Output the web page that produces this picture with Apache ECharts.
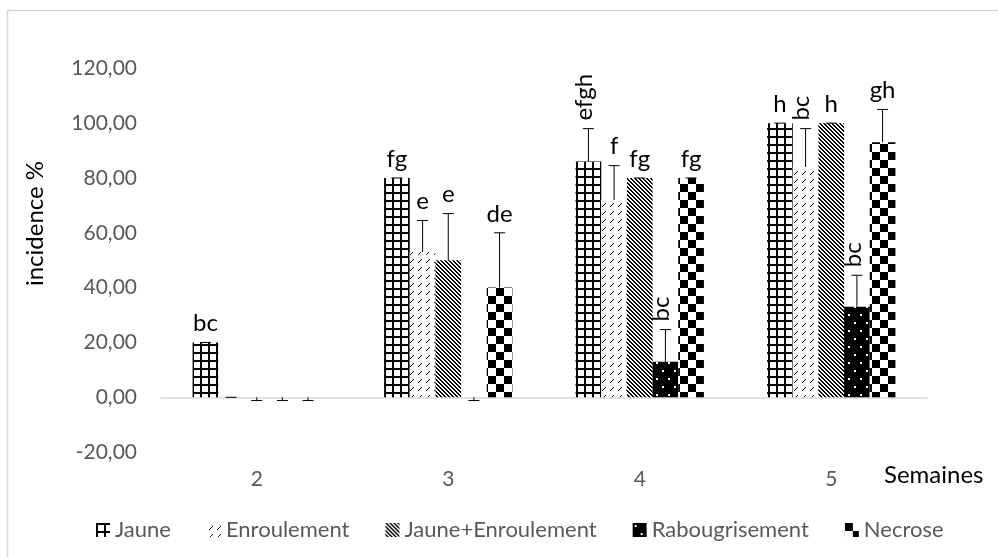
<!DOCTYPE html>
<html><head><meta charset="utf-8">
<script src="https://cdn.jsdelivr.net/npm/echarts@6/dist/echarts.min.js"></script>
<style>html,body{margin:0;padding:0;background:#fff}#c{width:998px;height:557px}</style>
</head><body><div id="c"></div>
<script>
const categories = ['2', '3', '4', '5'];
const yMin = -20, yMax = 120, yStep = 20;
const jaune = [20, 80, 86, 100];
const enroulement = [0, 53, 72, 84];
const jauneEnroulement = [0, 50, 80, 100];
const rabougrisement = [0, 0, 13, 33];
const necrose = [0, 40, 80, 93];
const errJaune = [0, 0, 12, 0];
const errEnroulement = [0, 11.5, 12.5, 14];
const errJauneEnroulement = [-1.2, 17, 0, 0];
const errRabougrisement = [-1.2, -1.2, 11.7, 11.5];
const errNecrose = [-1.2, 20, 0, 12];
const lblJaune = ['bc', 'fg', 'efgh', 'h'];
const lblEnroulement = ['', 'e', 'f', 'bc'];
const lblJauneEnroulement = ['', 'e', 'fg', 'h'];
const lblRabougrisement = ['', '', 'bc', 'bc'];
const lblNecrose = ['', 'de', 'fg', 'gh'];
const rotJaune = [0, 0, 1, 0];
const rotEnroulement = [0, 0, 0, 1];
const rotJauneEnroulement = [0, 0, 0, 0];
const rotRabougrisement = [0, 0, 1, 1];
const rotNecrose = [0, 0, 0, 0];

function tile(w, h, bg, fg, draw) {
  const c = document.createElement('canvas');
  c.width = w; c.height = h;
  const g = c.getContext('2d');
  g.fillStyle = bg; g.fillRect(0, 0, w, h);
  g.fillStyle = fg; draw(g, w, h);
  return { image: c, repeat: 'repeat' };
}
const patGrid = tile(8, 8, '#fff', '#000', g => { g.fillRect(0, 0, 8, 2); g.fillRect(0, 0, 2, 8); });
const patDash = tile(8, 8, '#fff', '#111', g => { for (let k = 0; k < 4; k++) g.fillRect(2 + k, 6 - k, 1, 1); });
const patDiag = tile(4, 4, '#fff', '#000', g => {
  for (let y = 0; y < 4; y++) for (let x = 0; x < 4; x++) if ((((x - y) % 4) + 4) % 4 < 2) g.fillRect(x, y, 1, 1);
});
const patDots = tile(12, 16, '#000', '#fff', g => { g.fillRect(2, 2, 2, 2); g.fillRect(8, 10, 2, 2); });
const patCheck = tile(16, 16, '#fff', '#000', g => { g.fillRect(0, 0, 8, 8); g.fillRect(8, 8, 8, 8); });

const defs = [
  { name: 'Jaune', values: jaune, err: errJaune, lbl: lblJaune, rot: rotJaune, color: patGrid },
  { name: 'Enroulement', values: enroulement, err: errEnroulement, lbl: lblEnroulement, rot: rotEnroulement, color: patDash },
  { name: 'Jaune+Enroulement', values: jauneEnroulement, err: errJauneEnroulement, lbl: lblJauneEnroulement, rot: rotJauneEnroulement, color: patDiag },
  { name: 'Rabougrisement', values: rabougrisement, err: errRabougrisement, lbl: lblRabougrisement, rot: rotRabougrisement, color: patDots },
  { name: 'Necrose', values: necrose, err: errNecrose, lbl: lblNecrose, rot: rotNecrose, color: patCheck }
];
const GAP = 0.33;
const FONT = 'Lato, "Open Sans", sans-serif';

const barSeries = defs.map(d => ({
  type: 'bar', name: d.name, data: d.values, barGap: '0%', barCategoryGap: (GAP * 100) + '%',
  itemStyle: { color: d.color }, z: 2
}));
const errSeries = defs.map((d, i) => ({
  type: 'custom', name: d.name + ' err', silent: true, z: 5,
  data: categories.map((c, k) => [k, d.values[k], d.err[k]]),
  encode: { x: 0, y: 1 },
  renderItem(params, api) {
    const k = api.value(0), v = api.value(1), e = api.value(2);
    const catW = api.size([1, 0])[0];
    const bw = catW * (1 - GAP) / defs.length;
    const cx = api.coord([k, 0])[0] - catW * (1 - GAP) / 2 + bw * (i + 0.5);
    const yB = api.coord([k, v])[1], yE = api.coord([k, v + e])[1];
    const ls = { stroke: '#000', lineWidth: 1 };
    const children = [
      { type: 'line', shape: { x1: cx, y1: yB, x2: cx, y2: yE }, style: ls },
      { type: 'line', shape: { x1: cx - 5.5, y1: yE, x2: cx + 5.5, y2: yE }, style: ls }
    ];
    const txt = d.lbl[params.dataIndex];
    if (txt) {
      const top = Math.min(yB, yE);
      if (d.rot[params.dataIndex]) {
        children.push({ type: 'text', x: cx - 4, y: top - 8, rotation: Math.PI / 2,
          style: { text: txt, font: '24px ' + FONT, fill: '#000', align: 'left', verticalAlign: 'middle' } });
      } else {
        children.push({ type: 'text', x: cx, y: top - 19,
          style: { text: txt, font: '24px ' + FONT, fill: '#000', align: 'center', verticalAlign: 'middle' } });
      }
    }
    return { type: 'group', children };
  }
}));

const chart = echarts.init(document.getElementById('c'), null, { renderer: 'canvas' });
chart.setOption({
  animation: false,
  backgroundColor: '#fff',
  textStyle: { fontFamily: FONT },
  grid: { left: 161, right: 71, top: 68.3, bottom: 104.9 },
  legend: {
    data: defs.map(d => d.name), icon: 'rect', itemWidth: 14, itemHeight: 14, itemGap: 36,
    left: 91, top: 514, textStyle: { fontSize: 22, color: '#595959', fontFamily: FONT }
  },
  title: { text: 'Semaines', left: 879, top: 458, textStyle: { fontSize: 24, fontWeight: 'normal', color: '#000', fontFamily: FONT } },
  xAxis: {
    type: 'category', data: categories,
    axisLine: { onZero: true, lineStyle: { color: '#d9d9d9', width: 1.5 } },
    axisTick: { show: false },
    axisLabel: { color: '#595959', fontSize: 21, margin: 17, fontFamily: FONT }
  },
  yAxis: {
    type: 'value', min: yMin, max: yMax, interval: yStep,
    splitLine: { show: false }, axisLine: { show: false }, axisTick: { show: false },
    axisLabel: { color: '#595959', fontSize: 21, margin: 24, fontFamily: FONT, formatter: v => v.toFixed(2).replace('.', ',') }
  },
  graphic: [
    { type: 'rect', shape: { x: 7.5, y: 10.5, width: 1200, height: 800 }, style: { fill: 'none', stroke: '#d9d9d9', lineWidth: 1.5 }, silent: true },
    { type: 'text', x: 35, y: 223.5, rotation: Math.PI / 2,
      style: { text: 'incidence %', font: '24px ' + FONT, fill: '#000', align: 'center', verticalAlign: 'middle' } }
  ],
  series: [...barSeries, ...errSeries]
});
</script></body></html>
